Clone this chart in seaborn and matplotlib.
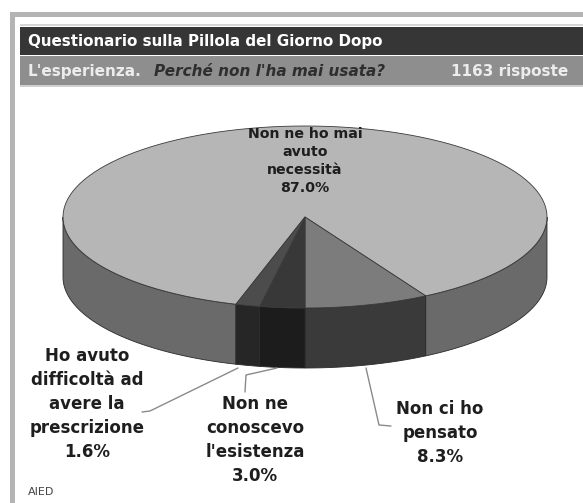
import numpy as np
import matplotlib
matplotlib.use("Agg")
import matplotlib.pyplot as plt
from matplotlib.patches import Polygon, Rectangle
import seaborn as sns

# Survey answers (percent of 1163 responses), in clockwise drawing order
answers = ["Non ne ho mai\navuto\nnecessità",
           "Non ci ho\npensato",
           "Non ne\nconoscevo\nl'esistenza",
           "Ho avuto\ndifficoltà ad\navere la\nprescrizione"]
shares = [87.0, 8.3, 3.0, 1.6]

title = "Questionario sulla Pillola del Giorno Dopo"
section = "L'esperienza."
question = "Perché non l'ha mai usata?"
responses = "1163 risposte"
source = "AIED"

sns.set_theme(style="white")
plt.rcParams["font.family"] = ["DejaVu Sans"]

top_colors = ["#b6b6b6", "#7c7c7c", "#383838", "#4c4c4c"]
side_colors = ["#6a6a6a", "#3a3a3a", "#1c1c1c", "#262626"]

fig = plt.figure(figsize=(5.83, 5.03), dpi=100)
ax = fig.add_axes([0, 0, 1, 1])
ax.set_xlim(0, 583)
ax.set_ylim(503, 0)
ax.axis("off")

# frame and header bands
ax.add_patch(Rectangle((10, 12), 5, 491, color="#b4b4b4", lw=0))
ax.add_patch(Rectangle((10, 12), 573, 5, color="#b4b4b4", lw=0))
ax.add_patch(Rectangle((20, 24), 563, 1.5, color="#d6d6d6", lw=0))
ax.add_patch(Rectangle((20, 27), 563, 28, color="#363636", lw=0))
ax.add_patch(Rectangle((20, 56), 563, 29, color="#8e8e8e", lw=0))
ax.add_patch(Rectangle((20, 85), 563, 2, color="#d0d0d0", lw=0))

ax.text(28, 41.5, title, color="white", fontsize=10.9, fontweight="bold",
        va="center", ha="left")
ax.text(28, 71, section, color="#ececec", fontsize=11, fontweight="bold",
        va="center", ha="left")
ax.text(154, 71, question, color="#2e2e2e", fontsize=11, fontweight="bold",
        fontstyle="italic", va="center", ha="left")
ax.text(568, 71, responses, color="#ececec", fontsize=11, fontweight="bold",
        va="center", ha="right")

# 3D pie geometry (pixel units)
cx, cy, a, b, depth = 305.0, 217.0, 242.0, 91.0, 60.0


def rim(t0, t1, n=120):
    t = np.radians(np.linspace(t0, t1, n))
    return cx + a * np.cos(t), cy - b * np.sin(t)


# slice angle ranges, clockwise from the start angle
fr = np.array(shares) / np.sum(shares) * 360.0
start = 270.0 + fr[0] + fr[1] - 360.0
ends = start - np.cumsum(fr)
starts = np.concatenate([[start], ends[:-1]])
ranges = [(e, s) for s, e in zip(starts, ends)]  # counter-clockwise (lo, hi)

# side walls (front half only)
for (lo, hi), col in zip(ranges, side_colors):
    for shift in (-360, 0, 360):
        s0, s1 = max(lo + shift, 180), min(hi + shift, 360)
        if s1 > s0:
            x, y = rim(s0, s1)
            xs = np.concatenate([x, x[::-1]])
            ys = np.concatenate([y, y[::-1] + depth])
            ax.add_patch(Polygon(np.column_stack([xs, ys]), closed=True,
                                 fc=col, ec="#2a2a2a", lw=0.6))

# top faces
for (lo, hi), col in zip(ranges, top_colors):
    x, y = rim(lo, hi)
    pts = np.column_stack([np.r_[cx, x], np.r_[cy, y]])
    ax.add_patch(Polygon(pts, closed=True, fc=col, ec="#3a3a3a", lw=0.6))

lab = dict(fontsize=10.2, fontweight="bold", color="#1e1e1e",
           ha="center", va="center", linespacing=1.37)
ax.text(305, 161, f"{answers[0]}\n{shares[0]:.1f}%", **lab)

lab2 = dict(lab, fontsize=12, linespacing=1.42)
ax.text(440, 433, f"{answers[1]}\n{shares[1]:.1f}%", **lab2)
ax.text(255, 440, f"{answers[2]}\n{shares[2]:.1f}%", **lab2)
ax.text(87, 404, f"{answers[3]}\n{shares[3]:.1f}%", **lab2)

# leader lines
lc = dict(color="#8a8a8a", lw=1.0)
ax.plot([366, 379, 391], [368, 425, 426], **lc)
ax.plot([277, 246, 245], [368, 375, 392], **lc)
ax.plot([238, 150, 142], [368, 411, 412], **lc)

ax.text(28, 492, source, fontsize=8, color="#444444", ha="left", va="center")

fig.savefig("out.png", dpi=100, facecolor="white")
